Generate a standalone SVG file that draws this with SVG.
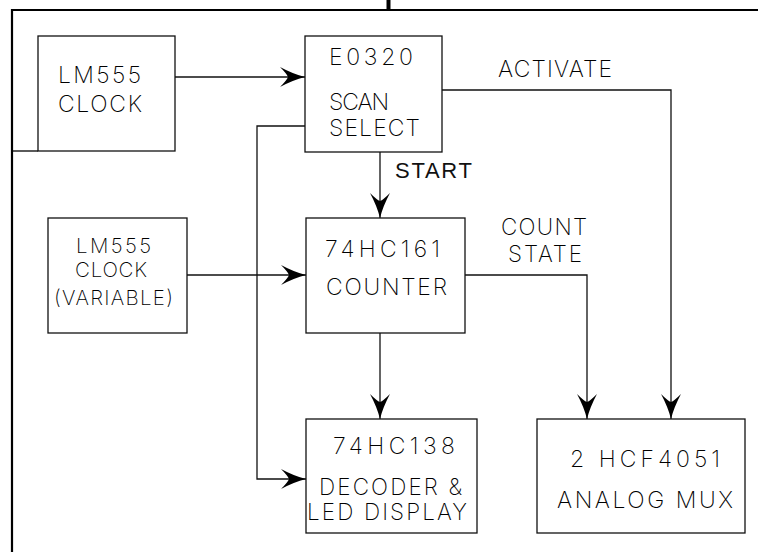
<svg xmlns="http://www.w3.org/2000/svg" width="758" height="552" viewBox="0 0 758 552">
<style>
.box{fill:#fff;stroke:#111;stroke-width:1.3}
.wire{fill:none;stroke:#111;stroke-width:1.3}
.t{font-family:Inter,Roboto,"Liberation Sans",sans-serif;font-weight:200;font-size:23px;fill:#000}
.s{font-size:20.5px}
.m{font-size:22.5px}
.tb{font-family:"Liberation Sans",sans-serif;font-size:22px;fill:#111}
</style>
<defs>
<marker id="arr" viewBox="-26 -10 28 20" refX="0" refY="0" markerWidth="28" markerHeight="20" markerUnits="userSpaceOnUse" orient="auto">
<path d="M0 0 Q-12 -3 -25 -10 Q-18 -3 -17 0 Q-18 3 -25 10 Q-12 3 0 0 Z" fill="#000"/>
</marker>
</defs>
<g id="frame" fill="none" stroke="#000">
<path d="M12 552 V10 H758" stroke-width="2.2"/>
<path d="M388.5 0 V10" stroke-width="4"/>
<path d="M12 151 H38" stroke-width="1.3"/>
</g>
<g id="connectors">
<path class="wire" d="M175 77 H305" marker-end="url(#arr)"/>
<path class="wire" d="M442 90 H671 V419" marker-end="url(#arr)"/>
<path class="wire" d="M305 126 H257 V479 H306" marker-end="url(#arr)"/>
<path class="wire" d="M380 152 V218" marker-end="url(#arr)"/>
<path class="wire" d="M187 275 H306" marker-end="url(#arr)"/>
<path class="wire" d="M465 275 H587 V419" marker-end="url(#arr)"/>
<path class="wire" d="M380 333 V419" marker-end="url(#arr)"/>
<text class="t" x="498" y="77" textLength="114" lengthAdjust="spacing">ACTIVATE</text>
<text class="tb" x="395" y="178" textLength="77" lengthAdjust="spacing">START</text>
<text class="t m" x="501" y="235" textLength="86" lengthAdjust="spacing">COUNT</text>
<text class="t m" x="508" y="262" textLength="74" lengthAdjust="spacing">STATE</text>
</g>
<g id="lm555clock">
<rect class="box" x="38" y="36" width="137" height="115"/>
<text class="t" x="58" y="83" textLength="83" lengthAdjust="spacing">LM555</text>
<text class="t" x="58" y="112" textLength="84" lengthAdjust="spacing">CLOCK</text>
</g>
<g id="e0320">
<rect class="box" x="305" y="36" width="137" height="116"/>
<text class="t" x="329" y="65" textLength="84" lengthAdjust="spacing">E0320</text>
<text class="t" x="329" y="110" textLength="60" lengthAdjust="spacing">SCAN</text>
<text class="t" x="329" y="136" textLength="91" lengthAdjust="spacing">SELECT</text>
</g>
<g id="lm555var">
<rect class="box" x="48" y="218" width="139" height="115"/>
<text class="t s" x="76" y="253" textLength="75" lengthAdjust="spacing">LM555</text>
<text class="t s" x="75" y="277" textLength="72" lengthAdjust="spacing">CLOCK</text>
<text class="t s" x="54" y="305" textLength="119" lengthAdjust="spacing">(VARIABLE)</text>
</g>
<g id="counter">
<rect class="box" x="306" y="218" width="159" height="115"/>
<text class="t" x="325" y="257" textLength="115" lengthAdjust="spacing">74HC161</text>
<text class="t" x="326" y="295" textLength="121" lengthAdjust="spacing">COUNTER</text>
</g>
<g id="decoder">
<rect class="box" x="306" y="419" width="171" height="114"/>
<text class="t" x="333" y="454" textLength="122" lengthAdjust="spacing">74HC138</text>
<text class="t m" x="319" y="495" textLength="143" lengthAdjust="spacing">DECODER &amp;</text>
<text class="t m" x="307" y="520" textLength="160" lengthAdjust="spacing">LED DISPLAY</text>
</g>
<g id="mux">
<rect class="box" x="537" y="419" width="208" height="114"/>
<text class="t" x="570" y="467" textLength="150" lengthAdjust="spacing">2 HCF4051</text>
<text class="t" x="557" y="508" textLength="176" lengthAdjust="spacing">ANALOG MUX</text>
</g>
</svg>
